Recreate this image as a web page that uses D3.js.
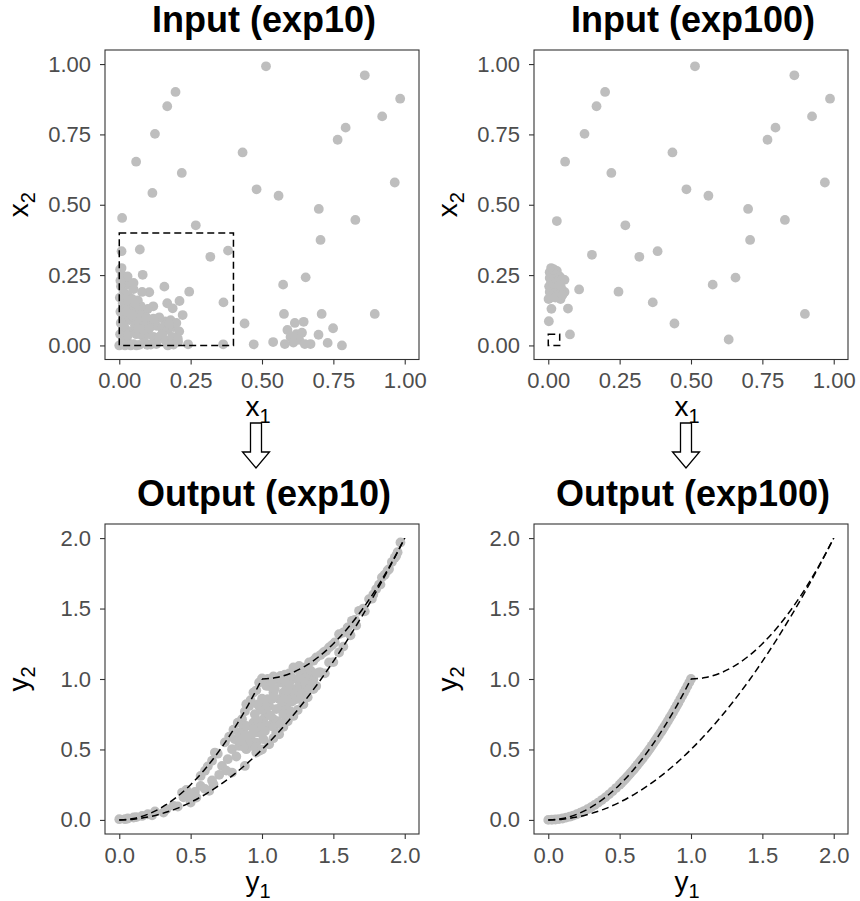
<!DOCTYPE html>
<html>
<head>
<meta charset="utf-8">
<script src="https://cdn.jsdelivr.net/npm/d3@7"></script>
<style>
html,body{margin:0;padding:0;background:#fff;}
text{font-family:"Liberation Sans",Arial,Helvetica,sans-serif;}
</style>
</head>
<body>
<svg id="chart" width="860" height="901"></svg>
<script>
// ---------------- DATA ----------------
const panelTitles = ["Input (exp10)", "Input (exp100)", "Output (exp10)", "Output (exp100)"];
const inputTicks = [0, 0.25, 0.5, 0.75, 1.0];
const outputTicks = [0, 0.5, 1.0, 1.5, 2.0];

// decision-space points (x1, x2), exp10
const inputExp10 = [
 [0.514,0.992],[0.860,0.960],[0.197,0.901],[0.168,0.850],[0.984,0.877],[0.921,0.814],[0.793,0.774],
 [0.765,0.731],[0.125,0.752],[0.059,0.653],[0.432,0.686],[0.219,0.613],[0.116,0.542],[0.481,0.555],
 [0.558,0.532],[0.965,0.579],[0.699,0.485],[0.827,0.446],[0.010,0.453],[0.268,0.427],[0.705,0.375],
 [0.072,0.341],[0.319,0.315],[0.381,0.337],[0.008,0.335],[0.008,0.275],[0.082,0.251],[0.653,0.242],
 [0.574,0.216],[0.158,0.209],[0.105,0.189],[0.245,0.191],[0.365,0.153],[0.211,0.158],[0.168,0.150],
 [0.119,0.139],[0.187,0.132],[0.222,0.108],[0.577,0.112],[0.709,0.112],[0.895,0.112],[0.439,0.078],
 [0.615,0.080],[0.646,0.084],[0.749,0.061],[0.589,0.055],[0.698,0.038],[0.620,0.040],[0.640,0.045],
 [0.600,0.030],[0.630,0.020],[0.610,0.010],[0.580,0.005],[0.650,0.005],[0.670,0.005],[0.471,0.004],
 [0.539,0.012],[0.730,0.009],[0.780,0.000],[0.364,0.004],[0.241,0.004],[0.206,0.013],[0.098,0.002],
 [0.003,0.270],[0.010,0.250],[0.020,0.230],[0.035,0.215],[0.050,0.200],[0.006,0.210],[0.015,0.190],
 [0.030,0.180],[0.045,0.165],[0.065,0.160],[0.080,0.190],[0.002,0.170],[0.012,0.150],[0.025,0.140],
 [0.040,0.130],[0.060,0.120],[0.080,0.110],[0.100,0.130],[0.004,0.120],[0.018,0.105],[0.035,0.090],
 [0.050,0.100],[0.070,0.085],[0.090,0.070],[0.110,0.080],[0.130,0.070],[0.150,0.060],[0.170,0.055],
 [0.190,0.065],[0.210,0.050],[0.160,0.085],[0.140,0.100],[0.120,0.095],[0.180,0.090],[0.200,0.080],
 [0.005,0.080],[0.020,0.060],[0.040,0.050],[0.060,0.040],[0.080,0.035],[0.100,0.040],[0.120,0.030],
 [0.140,0.030],[0.160,0.020],[0.185,0.030],[0.205,0.025],[0.003,0.040],[0.015,0.020],[0.030,0.010],
 [0.050,0.005],[0.070,0.002],[0.090,0.010],[0.110,0.003],[0.000,0.000],[0.020,0.000],[0.040,0.000],
 [0.060,0.000],[0.130,0.005],[0.170,0.000],[0.190,0.003],[0.075,0.140],[0.055,0.070],[0.025,0.120],
 [0.029,0.245],[0.050,0.222],[0.004,0.230],[0.030,0.160],[0.055,0.150],[0.015,0.070],[0.045,0.110],
 [0.065,0.060],[0.030,0.035],[0.085,0.055],[0.105,0.060],[0.150,0.040],[0.175,0.075],[0.095,0.100]
];
// decision-space points (x1, x2), exp100
const inputExp100 = [
 [0.514,0.992],[0.862,0.960],[0.199,0.901],[0.169,0.850],[0.987,0.877],[0.924,0.814],[0.796,0.774],
 [0.768,0.731],[0.127,0.752],[0.059,0.653],[0.435,0.686],[0.221,0.613],[0.484,0.555],[0.561,0.532],
 [0.969,0.579],[0.700,0.485],[0.829,0.446],[0.030,0.442],[0.270,0.427],[0.707,0.375],[0.153,0.322],
 [0.319,0.315],[0.383,0.335],[0.656,0.241],[0.576,0.216],[0.108,0.199],[0.246,0.191],[0.366,0.153],
 [0.899,0.112],[0.442,0.078],[0.632,0.021],[0.076,0.039],[0.002,0.086],[0.011,0.130],[0.069,0.131],
 [0.043,0.165],[0.001,0.165],[0.057,0.190],[0.057,0.233],
 [0.010,0.275],[0.020,0.270],[0.030,0.265],[0.005,0.260],[0.015,0.255],[0.025,0.250],[0.040,0.245],
 [0.005,0.240],[0.020,0.235],[0.035,0.230],[0.050,0.235],[0.010,0.225],[0.025,0.220],[0.040,0.215],
 [0.003,0.210],[0.015,0.205],[0.030,0.200],[0.045,0.205],[0.005,0.190],[0.020,0.185],[0.035,0.180],
 [0.010,0.170],[0.025,0.170],[0.050,0.180]
];
// objective-space points (y1, y2), exp10
const outputExp10 = [
 [0.00,0.005],[0.04,0.005],[0.10,0.017],[0.16,0.028],[0.23,0.033],[0.31,0.052],[0.33,0.076],[0.41,0.095],
 [0.44,0.194],[0.47,0.213],[0.53,0.199],[0.54,0.159],[0.57,0.241],[0.57,0.312],[0.60,0.348],[0.66,0.253],
 [0.67,0.478],[0.72,0.383],[0.76,0.431],[0.82,0.450],[0.79,0.502],[0.81,0.573],[0.84,0.620],[0.87,0.644],
 [0.86,0.715],[0.89,0.821],[0.91,0.809],[0.94,0.904],[0.98,0.975],[1.00,1.004],[1.08,1.018],[1.13,1.022],
 [1.22,1.082],[1.26,1.093],[1.33,1.117],[1.38,1.153],[1.43,1.188],[1.47,1.224],[1.51,1.259],[1.54,1.318],
 [1.60,1.366],[1.63,1.413],[1.68,1.484],[1.75,1.567],[1.80,1.638],[1.84,1.721],[1.89,1.780],[1.94,1.875],
 [1.97,1.969],
 [0.88,0.383],[0.98,0.490],[1.05,0.537],[1.12,0.608],[1.22,0.738],[1.29,0.821],[1.36,0.928],[1.41,1.046],
 [1.47,1.117],[1.54,1.188],[0.50,0.123],[0.63,0.206],[0.79,0.336],
 [0.89,0.667],[0.91,0.596],[0.94,0.691],[0.96,0.549],[0.98,0.620],[1.01,0.715],[1.03,0.762],[1.05,0.809],
 [1.08,0.715],[1.10,0.786],[1.12,0.857],[1.15,0.904],[1.17,0.951],[1.19,0.880],[1.22,0.928],[1.24,0.999],
 [1.26,0.951],[1.29,1.022],[1.31,1.046],[1.33,0.999],[1.08,0.904],[1.05,0.667],[1.01,0.573],[0.96,0.478],
 [0.93,0.525],[1.17,0.809],[1.20,1.022],[1.13,0.975],[1.26,1.058],[1.03,0.951],[1.04,0.857],[0.98,0.809],
 [1.10,0.620],[1.03,0.667],[0.89,0.502],[0.84,0.525],[1.17,0.715],[1.24,0.857],[1.31,0.951],[1.36,0.999],
 [1.40,1.046],[1.10,1.010],
 [0.62,0.380],[0.65,0.420],[0.69,0.470],[0.74,0.550],[0.77,0.590],[0.80,0.640],[0.83,0.690],[0.88,0.770],
 [0.92,0.850],[0.96,0.920],
 [1.04,1.000],[1.16,1.030],[1.19,1.040],[1.29,1.080],[1.36,1.130],[1.41,1.170],[1.45,1.200],[1.49,1.240],
 [1.57,1.330],[1.65,1.420],[1.71,1.500],[1.78,1.600],[1.82,1.670],[1.86,1.740],[1.91,1.830],[1.95,1.900],
 [1.00,0.500],[1.08,0.580],[1.15,0.660],[1.18,0.700],[1.25,0.780],[1.32,0.870],[1.38,0.950],[1.44,1.040],
 [1.50,1.120],[1.57,1.230],[1.62,1.310],[1.66,1.380],[1.72,1.480],[1.77,1.570],[1.83,1.670],[1.88,1.770],
 [1.93,1.860],
 [0.95,0.620],[0.97,0.700],[0.99,0.660],[1.00,0.780],[1.02,0.820],[1.06,0.740],[1.07,0.860],[1.09,0.930],
 [1.11,0.700],[1.12,0.790],[1.14,0.840],[1.15,0.750],[1.16,0.870],[1.18,0.920],[1.19,0.970],[1.21,0.840],
 [1.23,0.890],[1.25,0.920],[1.27,1.000],[1.28,0.900],[1.30,0.980],[1.32,1.050],[1.34,1.060],[1.35,0.960],
 [1.38,1.040],[0.92,0.580],[0.94,0.640],[0.90,0.550],[0.87,0.520],[0.85,0.560],[0.88,0.600],[0.95,0.750],
 [0.97,0.820],[1.00,0.860],[1.05,0.950],[1.07,0.980],[1.13,1.000],[1.16,1.000],[1.02,0.630],[1.08,0.660],
 [1.13,0.680],[1.20,0.770],[1.27,0.860],[1.33,0.930],
 [0.75,0.350],[0.70,0.320],[0.65,0.280],[0.60,0.220],[0.45,0.160],[0.38,0.100],[0.25,0.060],[0.20,0.040],
 [0.12,0.020],[0.06,0.010],[0.50,0.180]
];
// objective-space points (y1, y2), exp100
const outputExp100 = [
 [0.000,0.000],[0.025,0.001],[0.050,0.003],[0.075,0.006],[0.100,0.010],[0.125,0.016],[0.150,0.023],
 [0.175,0.031],[0.200,0.040],[0.225,0.051],[0.250,0.063],[0.275,0.076],[0.300,0.090],[0.325,0.106],
 [0.350,0.123],[0.375,0.141],[0.400,0.160],[0.425,0.181],[0.450,0.203],[0.475,0.226],[0.500,0.250],
 [0.525,0.276],[0.550,0.303],[0.575,0.331],[0.600,0.360],[0.625,0.391],[0.650,0.423],[0.675,0.456],
 [0.700,0.490],[0.725,0.526],[0.750,0.563],[0.775,0.601],[0.800,0.640],[0.825,0.681],[0.850,0.723],
 [0.875,0.766],[0.900,0.810],[0.925,0.856],[0.950,0.903],[0.975,0.951],[1.000,1.000],
 [0.512,0.262],[0.538,0.289],[0.562,0.316],[0.588,0.346],[0.612,0.375],[0.638,0.407],[0.662,0.438],
 [0.688,0.473],[0.712,0.507],[0.738,0.545],[0.762,0.581],[0.788,0.621],[0.812,0.659],[0.838,0.702],
 [0.862,0.743],[0.888,0.789],[0.912,0.832],[0.938,0.880],[0.962,0.925],[0.988,0.976]
];
// dashed reference fronts in objective space
const frontUpperA = [[0,0],[0.1,0.01],[0.2,0.04],[0.3,0.09],[0.4,0.16],[0.5,0.25],[0.6,0.36],[0.7,0.49],[0.8,0.64],[0.9,0.81],[1.0,1.0]];
const frontUpperB = [[1.0,1.0],[1.1,1.01],[1.2,1.04],[1.3,1.09],[1.4,1.16],[1.5,1.25],[1.6,1.36],[1.7,1.49],[1.8,1.64],[1.9,1.81],[2.0,2.0]];
const frontLower = [[0,0],[0.1,0.005],[0.2,0.02],[0.3,0.045],[0.4,0.08],[0.5,0.125],[0.6,0.18],[0.7,0.245],[0.8,0.32],[0.9,0.405],[1.0,0.5],[1.1,0.605],[1.2,0.72],[1.3,0.845],[1.4,0.98],[1.5,1.125],[1.6,1.28],[1.7,1.445],[1.8,1.62],[1.9,1.805],[2.0,2.0]];
// dashed boxes in decision space [x0, y0, x1, y1]
const boxExp10 = [0, 0, 0.4, 0.4];
const boxExp100 = [0, 0, 0.04, 0.04];

// ---------------- DRAW ----------------
const svg = d3.select("#chart");
svg.append("rect").attr("width",860).attr("height",901).attr("fill","#fff");

const GRAY = "#BEBEBE";
const FRAME = "#333333";
const TICKTXT = "#4D4D4D";
const DASH = "7,4";

function drawPanel(cfg){
  const x = d3.scaleLinear().domain(cfg.xd).range([cfg.left, cfg.right]);
  const y = d3.scaleLinear().domain(cfg.yd).range([cfg.bottom, cfg.top]);
  const g = svg.append("g");

  g.append("text")
    .attr("x",(cfg.left+cfg.right)/2 + 2).attr("y",cfg.top-18)
    .attr("text-anchor","middle").attr("font-weight","bold").attr("font-size",36).attr("fill","#000")
    .text(cfg.title);

  g.append("g").selectAll("circle").data(cfg.points).join("circle")
    .attr("cx",d=>x(d[0])).attr("cy",d=>y(d[1])).attr("r",4.9).attr("fill",GRAY);

  const line = d3.line().x(d=>x(d[0])).y(d=>y(d[1])).curve(d3.curveMonotoneX);
  (cfg.lines||[]).forEach(l=>{
    g.append("path").attr("d",line(l)).attr("fill","none").attr("stroke","#000")
      .attr("stroke-width",1.5).attr("stroke-dasharray",DASH);
  });
  if(cfg.box){
    const b = cfg.box;
    g.append("rect").attr("x",x(b[0])).attr("y",y(b[3]))
      .attr("width",x(b[2])-x(b[0])).attr("height",y(b[1])-y(b[3]))
      .attr("fill","none").attr("stroke","#000").attr("stroke-width",1.5).attr("stroke-dasharray",DASH);
  }

  g.append("rect").attr("x",cfg.left).attr("y",cfg.top)
    .attr("width",cfg.right-cfg.left).attr("height",cfg.bottom-cfg.top)
    .attr("fill","none").attr("stroke",FRAME).attr("stroke-width",1.1);

  const fmt = d3.format(cfg.fmt);
  const ax = g.append("g").attr("transform",`translate(0,${cfg.bottom})`)
    .call(d3.axisBottom(x).tickValues(cfg.ticks).tickFormat(fmt).tickSize(5).tickPadding(8));
  const ay = g.append("g").attr("transform",`translate(${cfg.left},0)`)
    .call(d3.axisLeft(y).tickValues(cfg.ticks).tickFormat(fmt).tickSize(5).tickPadding(9));
  [ax,ay].forEach(a=>{
    a.select(".domain").remove();
    a.selectAll(".tick line").attr("stroke",FRAME).attr("stroke-width",1.1);
    a.selectAll(".tick text").attr("fill",TICKTXT).attr("font-size",22)
      .attr("font-family","'Liberation Sans',Arial,Helvetica,sans-serif");
  });

  const xt = g.append("text").attr("x",(cfg.left+cfg.right)/2 - 4).attr("y",cfg.bottom+56.5)
    .attr("text-anchor","middle").attr("font-size",28).attr("fill","#000");
  xt.append("tspan").text(cfg.xlab);
  xt.append("tspan").attr("font-size",20).attr("dy",7).text("1");

  const yc = (cfg.top+cfg.bottom)/2;
  const ytx = cfg.left-77;
  const yt = g.append("text").attr("transform",`translate(${ytx},${yc}) rotate(-90)`)
    .attr("text-anchor","middle").attr("font-size",28).attr("fill","#000");
  yt.append("tspan").text(cfg.ylab);
  yt.append("tspan").attr("font-size",20).attr("dy",7).text("2");
}

drawPanel({title:panelTitles[0],left:105,right:419,top:50,bottom:359.5,xd:[-0.05,1.05],yd:[-0.05,1.05],
  ticks:inputTicks,fmt:".2f",points:inputExp10,box:boxExp10,xlab:"x",ylab:"x"});
drawPanel({title:panelTitles[1],left:534,right:848,top:50,bottom:359.5,xd:[-0.05,1.05],yd:[-0.05,1.05],
  ticks:inputTicks,fmt:".2f",points:inputExp100,box:boxExp100,xlab:"x",ylab:"x"});
drawPanel({title:panelTitles[2],left:105,right:419,top:524,bottom:834,xd:[-0.1,2.1],yd:[-0.1,2.1],
  ticks:outputTicks,fmt:".1f",points:outputExp10,lines:[frontUpperA,frontUpperB,frontLower],xlab:"y",ylab:"y"});
drawPanel({title:panelTitles[3],left:534,right:848,top:524,bottom:834,xd:[-0.1,2.1],yd:[-0.1,2.1],
  ticks:outputTicks,fmt:".1f",points:outputExp100,lines:[frontUpperA,frontUpperB,frontLower],xlab:"y",ylab:"y"});

function arrow(cx){
  const p = d3.path();
  p.moveTo(cx-5.5,423); p.lineTo(cx+5.5,423); p.lineTo(cx+5.5,452); p.lineTo(cx+13.5,452);
  p.lineTo(cx,468); p.lineTo(cx-13.5,452); p.lineTo(cx-5.5,452); p.closePath();
  svg.append("path").attr("d",p.toString()).attr("fill","#fff").attr("stroke","#000").attr("stroke-width",1.3);
}
arrow(256);
arrow(686);
</script>
</body>
</html>
